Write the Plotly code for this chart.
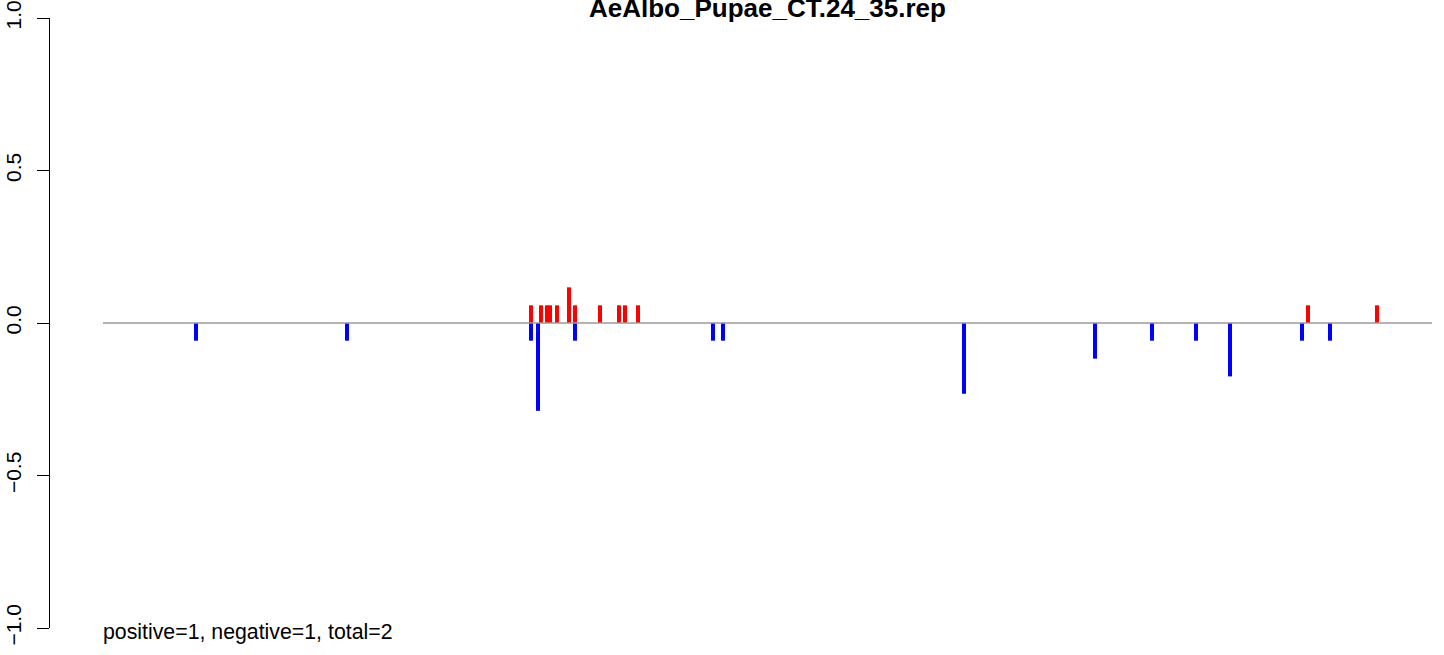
import plotly.graph_objects as go

# ---- data ----
title_text = "AeAlbo_Pupae_CT.24_35.rep"
summary_text = "positive=1, negative=1, total=2"

# extent of the baseline (chromosome span, arbitrary position units)
span_start = 103
span_end = 1432

# positive (red) signals: positions and values
pos_x = [531, 541, 547, 550, 557, 569, 575, 600, 619, 625, 638, 1308, 1377]
pos_y = [0.058, 0.058, 0.058, 0.058, 0.058, 0.117, 0.058, 0.058, 0.058, 0.058, 0.058, 0.058, 0.058]

# negative (blue) signals: positions and values
neg_x = [196, 347, 531, 538, 575, 713, 723, 964, 1095, 1152, 1196, 1230, 1302, 1330]
neg_y = [-0.058, -0.058, -0.058, -0.288, -0.058, -0.058, -0.058, -0.232, -0.117, -0.058,
         -0.058, -0.175, -0.058, -0.058]

y_ticks = [-1.0, -0.5, 0.0, 0.5, 1.0]
y_tick_labels = ["\u22121.0", "\u22120.5", "0.0", "0.5", "1.0"]

W, H = 1444, 655
ML, MR, MT, MB = 50, 0, 18, 27
plot_w = W - ML - MR
plot_h = H - MT - MB

fig = go.Figure()
fig.add_trace(go.Bar(x=pos_x, y=pos_y, width=4, marker=dict(color="#FF0000", line=dict(width=0)),
                     showlegend=False))
fig.add_trace(go.Bar(x=neg_x, y=neg_y, width=4, marker=dict(color="#0000FF", line=dict(width=0)),
                     showlegend=False))
fig.add_trace(go.Scatter(x=[span_start, span_end], y=[0, 0], mode="lines",
                         line=dict(color="#9a9a9a", width=1.5), showlegend=False,
                         hoverinfo="skip"))

font_family = "Liberation Sans, Arial, Helvetica, sans-serif"

fig.update_layout(
    width=W, height=H,
    margin=dict(l=ML, r=MR, t=MT, b=MB, pad=0),
    paper_bgcolor="white", plot_bgcolor="white",
    barmode="overlay",
    font=dict(family=font_family, size=21, color="black"),
    xaxis=dict(visible=False, range=[ML, W - MR], showgrid=False, zeroline=False),
    yaxis=dict(range=[-1, 1], tickvals=y_ticks, ticktext=y_tick_labels, tickangle=-90,
               showgrid=False, zeroline=False, showline=True, linecolor="black", linewidth=1,
               ticks="outside", ticklen=12, tickwidth=1, tickcolor="black",
               ticklabelstandoff=8,
               tickfont=dict(family=font_family, size=21, color="black"),
               automargin=False),
    annotations=[
        dict(text="<b>" + title_text + "</b>", xref="paper", yref="paper",
             x=(767 - ML) / plot_w, y=1 + (MT - 25) / plot_h, xanchor="center", yanchor="bottom",
             showarrow=False, font=dict(family=font_family, size=26, color="black")),
        dict(text=summary_text, xref="paper", yref="paper",
             x=(101 - ML) / plot_w, y=(628 - 632) / plot_h, xanchor="left", yanchor="middle",
             showarrow=False, font=dict(family=font_family, size=21.3, color="black")),
    ],
)

fig.write_html("out.html", config={"displayModeBar": False},
               post_script="document.body.style.margin='0px';")
